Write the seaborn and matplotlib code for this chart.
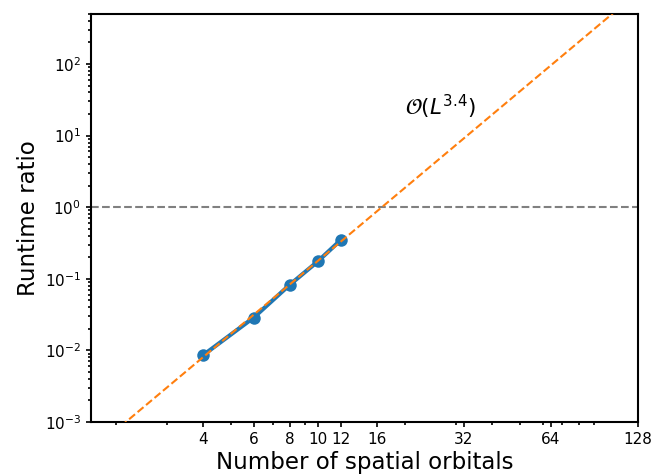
import numpy as np
import pandas as pd
import matplotlib
matplotlib.use("Agg")
import matplotlib.pyplot as plt
import matplotlib.ticker as mticker
import seaborn as sns

# Measured runtime ratios versus number of spatial orbitals
orbitals = [4, 6, 8, 10, 12]
runtime_ratio = [0.0085, 0.0287, 0.0826, 0.175, 0.348]
x_ticks = [4, 6, 8, 10, 12, 16, 32, 64, 128]

df = pd.DataFrame({"L": orbitals, "ratio": runtime_ratio})

# Power-law fit in log-log space
slope, intercept = np.polyfit(np.log(orbitals), np.log(runtime_ratio), 1)
L_fit = np.geomspace(1, 128, 200)
fit = np.exp(intercept) * L_fit ** slope

fig = plt.figure(figsize=(6.53, 4.75), dpi=100)
ax = fig.add_axes([0.139, 0.1116, 0.838, 0.859])

ax.axhline(1.0, color="grey", linestyle="--", linewidth=1.5, zorder=1)
sns.lineplot(data=df, x="L", y="ratio", ax=ax, color="tab:blue", linewidth=3,
             marker="o", markersize=9, markeredgewidth=0, zorder=2)
ax.plot(L_fit, fit, color="tab:orange", linestyle="--", linewidth=1.5, zorder=3)

ax.set_xscale("log")
ax.set_yscale("log")
ax.set_xlim(1.64, 128)
ax.set_ylim(1e-3, 5e2)
ax.set_xticks(x_ticks)
ax.xaxis.set_major_formatter(mticker.FixedFormatter([str(t) for t in x_ticks]))
ax.xaxis.set_minor_formatter(mticker.NullFormatter())

ax.text(26.5, 25, r"$\mathcal{O}(L^{%.1f})$" % slope, fontsize=15.5,
        ha="center", va="center")

ax.set_xlabel("Number of spatial orbitals", fontsize=16.5, labelpad=3)
ax.set_ylabel("Runtime ratio", fontsize=16.5, labelpad=3)
ax.tick_params(which="both", labelsize=11, width=1.2)
for s in ax.spines.values():
    s.set_linewidth(1.5)

fig.savefig("out.png", dpi=100)
